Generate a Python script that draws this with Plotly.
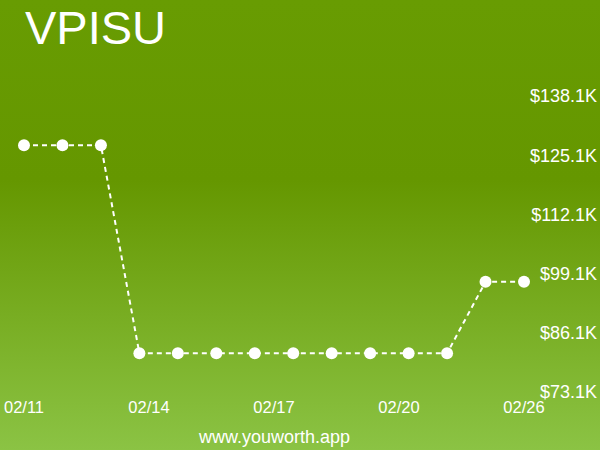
import base64
import plotly.graph_objects as go

# data
dates = ['02/11', '02/12', '02/13', '02/14', '02/15', '02/16', '02/17',
         '02/18', '02/19', '02/20', '02/21', '02/24', '02/25', '02/26']
values = [127300, 127300, 127300, 81600, 81600, 81600, 81600,
          81600, 81600, 81600, 81600, 81600, 97300, 97300]
x_ticklabels = ['02/11', '02/14', '02/17', '02/20', '02/26']
y_tickvals = [73100, 86100, 99100, 112100, 125100, 138100]
title_text = 'VPISU'
footer_text = 'www.youworth.app'

n = len(dates)
idx = list(range(n))
x_tickvals = [i * (n - 1) / (len(x_ticklabels) - 1) for i in range(len(x_ticklabels))]
y_ticktext = ['$%.1fK' % (v / 1000) for v in y_tickvals]

#plot area in pixels
L, R, T, B = 0, 0, 96, 58
pw, ph = 600 - L - R, 450 - T - B

#background gradient as an svg image
svg = ('<svg xmlns="http://www.w3.org/2000/svg" width="600" height="450" preserveAspectRatio="none">'
       '<defs><linearGradient id="g" x1="0" y1="0" x2="0" y2="1">'
       '<stop offset="0" stop-color="rgb(104,156,2)"/>'
       '<stop offset="0.4" stop-color="rgb(101,151,0)"/>'
       '<stop offset="1" stop-color="rgb(139,195,68)"/>'
       '</linearGradient></defs><rect width="600" height="450" fill="url(#g)"/></svg>')
bg_src = 'data:image/svg+xml;base64,' + base64.b64encode(svg.encode()).decode()

fig = go.Figure(go.Scatter(
    x=idx, y=values, mode='lines+markers',
    line=dict(color='white', width=2, dash='5px,4px'),
    marker=dict(color='white', size=12),
    hoverinfo='skip'))

px_per_unit = 500 / (n - 1)
fig.update_layout(
    width=600, height=450,
    margin=dict(l=L, r=R, t=T, b=B),
    paper_bgcolor='rgb(101,151,0)', plot_bgcolor='rgba(0,0,0,0)',
    showlegend=False,
    font=dict(family='Liberation Sans, Arial', color='white'),
    images=[dict(source=bg_src, xref='paper', yref='paper',
                 x=-L / pw, y=1 + T / ph, sizex=600 / pw, sizey=450 / ph,
                 sizing='stretch', layer='below',
                 xanchor='left', yanchor='top')],
)

fig.update_xaxes(
    range=[-24 / px_per_unit, (n - 1) + (pw - 524) / px_per_unit],
    tickvals=x_tickvals, ticktext=x_ticklabels,
    showgrid=False, zeroline=False, showline=False, ticks='',
    ticklabelstandoff=3,
    tickfont=dict(size=16.5, color='white'))
fig.update_yaxes(
    range=[73100, 138100], side='right',
    tickvals=y_tickvals, ticktext=y_ticktext,
    ticklabelposition='inside', ticklabeloverflow='allow',
    showgrid=False, zeroline=False, showline=False, ticks='',
    tickfont=dict(size=18, color='white'))

# title box kept inside the page so nothing is clipped
fig.add_annotation(text=title_text, xref='paper', yref='paper',
                   x=24 / pw, y=1 + T / ph, xanchor='left', yanchor='top',
                   borderpad=0,
                   showarrow=False, font=dict(size=47, color='white'))
fig.add_annotation(text=footer_text, xref='paper', yref='paper',
                   x=274 / pw, y=-45 / ph, xanchor='center', yanchor='middle',
                   showarrow=False, font=dict(size=18, color='white'))

fig.write_html('out.html', config={'displayModeBar': False},
               post_script="document.body.style.margin='0';")
